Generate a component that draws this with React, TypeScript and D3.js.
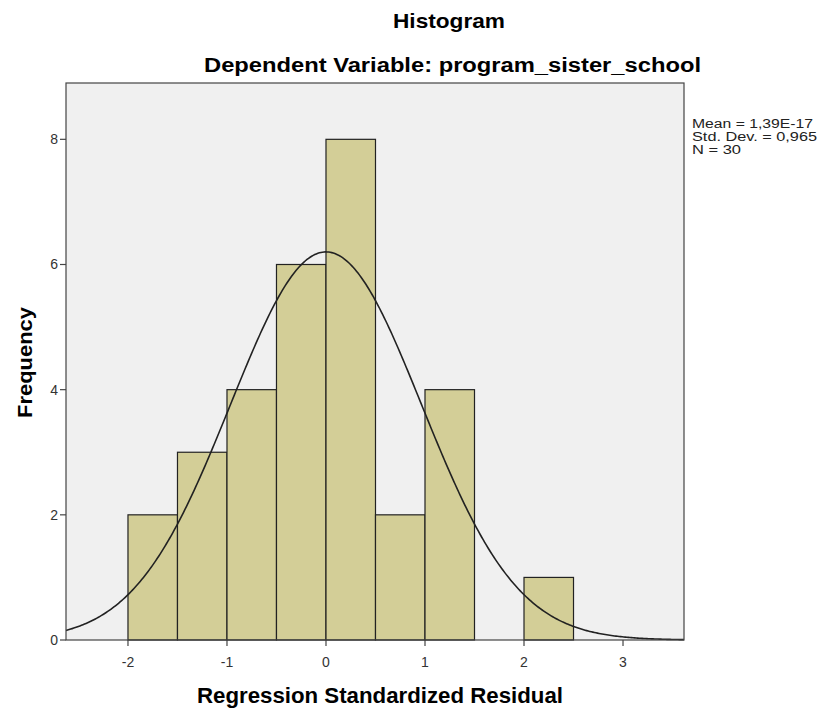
import React from "react";
import * as d3 from "d3";

const binStarts = [-2, -1.5, -1, -0.5, 0, 0.5, 1, 1.5, 2];
const binWidth = 0.5;
const counts = [2, 3, 4, 6, 8, 2, 4, 0, 1];
const xTicks = [-2, -1, 0, 1, 2, 3];
const yTicks = [0, 2, 4, 6, 8];
const statMean = 1.39e-17;
const statSd = 0.965;
const statN = 30;
const legendLines = ["Mean = 1,39E-17", "Std. Dev. = 0,965", "N = 30"];
const legendWidths = [121, 125, 49];

const W = 823, H = 713;
const L = 66, R = 684, T = 83, B = 640;

export default function App() {
  const x = d3.scaleLinear().domain([-2.626, 3.616]).range([L, R]);
  const y = d3.scaleLinear().domain([0, 8.9]).range([B, T]);
  const pdf = (v: number) =>
    (statN * binWidth) / (statSd * Math.sqrt(2 * Math.PI)) *
    Math.exp(-0.5 * ((v - statMean) / statSd) ** 2);
  const pts: [number, number][] = d3.range(0, 401).map((i) => {
    const v = -2.626 + (i / 400) * (3.616 + 2.626);
    return [v, pdf(v)];
  });
  const line = d3.line<[number, number]>().x((d) => x(d[0])).y((d) => y(d[1]));
  const font = "'Liberation Sans', Arial, sans-serif";
  return (
    <svg width={W} height={H} style={{ position: "absolute", left: 0, top: 0, background: "#fff" }} fontFamily={font}>
      <rect x={0} y={0} width={W} height={H} fill="#fff" />
      <text x={393} y={28} fontSize={21} fontWeight="bold" fill="#000" textLength={112} lengthAdjust="spacingAndGlyphs">Histogram</text>
      <text x={204} y={72} fontSize={20} fontWeight="bold" fill="#000" textLength={497} lengthAdjust="spacingAndGlyphs">Dependent Variable: program_sister_school</text>
      <rect x={L} y={T} width={R - L} height={B - T} fill="#f0f0f0" />
      {counts.map((c, i) =>
        c > 0 ? (
          <rect key={i} x={x(binStarts[i])} y={y(c)} width={x(binStarts[i] + binWidth) - x(binStarts[i])} height={B - y(c)}
            fill="#d3ce97" stroke="#222" strokeWidth={1.2} />
        ) : null
      )}
      <path d={line(pts) || ""} fill="none" stroke="#222" strokeWidth={1.6} />
      <rect x={L} y={T} width={R - L} height={B - T} fill="none" stroke="#444" strokeWidth={1.2} />
      {yTicks.map((t) => (
        <g key={t}>
          <line x1={L - 6} x2={L} y1={y(t)} y2={y(t)} stroke="#444" strokeWidth={1.2} />
          <text x={L - 8} y={y(t) + 5} textAnchor="end" fontSize={14} fill="#333">{t}</text>
        </g>
      ))}
      {xTicks.map((t) => (
        <g key={t}>
          <line x1={x(t)} x2={x(t)} y1={B} y2={B + 6} stroke="#444" strokeWidth={1.2} />
          <text x={x(t)} y={B + 27} textAnchor="middle" fontSize={14} fill="#333">{t}</text>
        </g>
      ))}
      <text x={197} y={703} fontSize={22} fontWeight="bold" fill="#000" textLength={366} lengthAdjust="spacingAndGlyphs">Regression Standardized Residual</text>
      <text transform={`translate(31.5,418) rotate(-90)`} fontSize={21} fontWeight="bold" fill="#000" textLength={111} lengthAdjust="spacingAndGlyphs">Frequency</text>
      {legendLines.map((s, i) => (
        <text key={i} x={692} y={128 + i * 12.8} fontSize={12.5} fill="#222" textLength={legendWidths[i]} lengthAdjust="spacingAndGlyphs">{s}</text>
      ))}
    </svg>
  );
}
